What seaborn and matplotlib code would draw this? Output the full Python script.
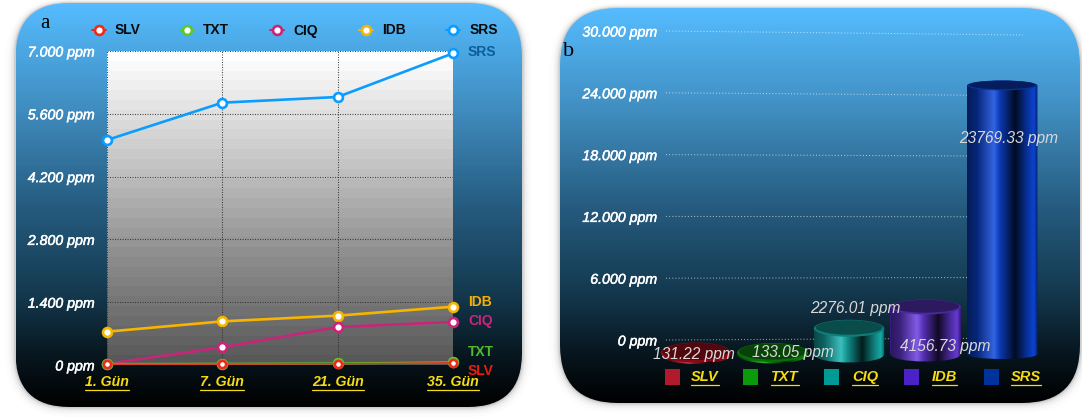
import numpy as np
import pandas as pd
import matplotlib
matplotlib.use("Agg")
import matplotlib.pyplot as plt
import matplotlib.patheffects as pe
import seaborn as sns
from matplotlib.colors import LinearSegmentedColormap, to_rgb
from matplotlib.patches import FancyBboxPatch, Ellipse, PathPatch
from matplotlib.path import Path
from matplotlib.lines import Line2D

# ---- data ----
days = ["1. Gün", "7. Gün", "21. Gün", "35. Gün"]
srs_line = [5016, 5848, 5975, 6948]
idb_line = [743, 973, 1100, 1300]
ciq_line = [25, 395, 847, 958]
txt_line = [25, 28, 35, 60]
slv_line = [18, 20, 28, 50]
line_ticks = [0, 1400, 2800, 4200, 5600, 7000]
line_tick_labels = ["0 ppm", "1.400 ppm", "2.800 ppm", "4.200 ppm", "5.600 ppm", "7.000 ppm"]

metals = ["SLV", "TXT", "CIQ", "IDB", "SRS"]
totals = [131.22, 133.05, 2276.01, 4156.73, 23769.33]
bar_ticks = [0, 6000, 12000, 18000, 24000, 30000]
bar_tick_labels = ["0 ppm", "6.000 ppm", "12.000 ppm", "18.000 ppm", "24.000 ppm", "30.000 ppm"]

# ---- styling ----
W, H = 1082, 418
line_colors = {"SLV": "#ee2a1c", "TXT": "#5cc82c", "CIQ": "#c8257a", "IDB": "#f7b500", "SRS": "#0a9cff"}
label_colors = {"SLV": "#ee1c0c", "TXT": "#4cbc2c", "CIQ": "#c8257a", "IDB": "#f5b000", "SRS": "#0d5c9b"}
swatch_colors = ["#b01a2a", "#0a9a0a", "#009a96", "#4a22c8", "#00329c"]
body_colors = ["#c01020", "#10a010", "#16b4b0", "#6a3ce0", "#0c46dc"]
ellipse_half = [10, 9.5, 8.5, 7.5, 5]
YELLOW = "#f7dc12"
SANS = "Liberation Sans"

sns.set_theme(style="white")
plt.rcParams["font.family"] = [SANS, "DejaVu Sans"]

fig = plt.figure(figsize=(W / 100, H / 100), dpi=100, facecolor="white")


def pixel_axes(x0, y0, x1, y1, zorder):
    """Axes placed by pixel box, measured from the top-left of the figure."""
    ax = fig.add_axes([x0 / W, 1 - y1 / H, (x1 - x0) / W, (y1 - y0) / H], zorder=zorder)
    ax.patch.set_alpha(0)
    for s in ax.spines.values():
        s.set_visible(False)
    return ax


bg = fig.add_axes([0, 0, 1, 1], zorder=0)
bg.set_xlim(0, W)
bg.set_ylim(H, 0)
bg.axis("off")

panel_cmap = LinearSegmentedColormap.from_list(
    "panel", [(0, "#55bcff"), (0.25, "#418fc2"), (0.5, "#265c80"), (0.72, "#14394f"), (0.88, "#07151d"), (1, "#000000")]
)
plot_cmap = LinearSegmentedColormap.from_list("plot", ["#ffffff", "#c8c8c8", "#8c8c8c", "#585858"], N=32)


def panel(x0, y0, x1, y1, r):
    # soft drop shadow, then the rounded gradient card
    for grow, a in [(10, 0.012), (7, 0.02), (5, 0.03), (3, 0.05), (1.5, 0.09)]:
        bg.add_patch(FancyBboxPatch((x0 - grow, y0 - grow * 0.5), x1 - x0 + 2 * grow, y1 - y0 + grow * 1.5,
                                    boxstyle=f"round,pad=0,rounding_size={r + grow}",
                                    fc="black", ec="none", alpha=a, zorder=1))
    clip = FancyBboxPatch((x0, y0), x1 - x0, y1 - y0, boxstyle=f"round,pad=0,rounding_size={r}",
                          fc="none", ec="none", zorder=2)
    bg.add_patch(clip)
    im = bg.imshow(np.linspace(0, 1, 256)[:, None], cmap=panel_cmap, aspect="auto",
                   extent=(x0, x1, y1, y0), zorder=2)
    im.set_clip_path(clip)


panel(15.5, 3, 522, 407, 54)
panel(560, 8, 1080, 403, 58)

# ---- panel a: lines ----
bg.imshow(np.linspace(0, 1, 32)[:, None], cmap=plot_cmap, aspect="auto", extent=(107, 453, 365, 51), zorder=3)
bg.set_xlim(0, W)
bg.set_ylim(H, 0)

tick_style = dict(fontsize=10.2, style="italic", color="white",
                  path_effects=[pe.withStroke(linewidth=0.35, foreground="white")])

ax_line = pixel_axes(107, 51, 453, 365, 2)
series_order = ["SRS", "IDB", "CIQ", "TXT", "SLV"]
line_values = {"SRS": srs_line, "IDB": idb_line, "CIQ": ciq_line, "TXT": txt_line, "SLV": slv_line}
long_df = pd.DataFrame(
    [{"day": d, "metal": m, "ppm": v} for m in series_order for d, v in zip(days, line_values[m])]
)
sns.lineplot(data=long_df, x="day", y="ppm", hue="metal", hue_order=series_order, palette=line_colors,
             marker="o", errorbar=None, legend=False, sort=False, ax=ax_line, linewidth=1.9, clip_on=False)
widths = {"SRS": 1.9, "IDB": 1.9, "CIQ": 1.9, "TXT": 1.5, "SLV": 1.0}
for ln, m in zip(ax_line.lines, series_order):
    ln.set_markerfacecolor("white")
    ln.set_markeredgecolor(line_colors[m])
    ln.set_markeredgewidth(1.9)
    ln.set_markersize(6.4 if m != "SLV" else 5.2)
    ln.set_linewidth(widths[m])
    ln.set_clip_on(False)
    ln.set_zorder(4)
ax_line.set_xlim(0, 3)
ax_line.set_ylim(0, 7000)
ax_line.set_xlabel("")
ax_line.set_ylabel("")
ax_line.set_yticks(line_ticks)
ax_line.set_yticklabels(line_tick_labels, **tick_style)
ax_line.set_xticks(range(4))
ax_line.set_xticklabels([])
ax_line.tick_params(axis="y", length=0, pad=9)
ax_line.tick_params(axis="x", length=0)
ax_line.grid(True, color="#2a2a2a", linestyle=(0, (1, 1.4)), linewidth=0.75, alpha=0.85)
ax_line.set_axisbelow(True)

# ---- panel b: receding gridlines with their labels ----
ax_grid = pixel_axes(666, 31, 1023, 340, 2)
ax_grid.set_xlim(0, 1)
ax_grid.set_ylim(0, 30000)
for v in bar_ticks:
    # the floor recedes, so each rule drifts toward the centre on its way right
    ax_grid.plot([0, 1], [v, v + 194 - 582 * v / 30000], color="white", alpha=0.6,
                 linestyle=(0, (1, 2)), linewidth=0.75, clip_on=False)
ax_grid.set_xticks([])
ax_grid.set_yticks(bar_ticks)
ax_grid.set_yticklabels(bar_tick_labels, **tick_style)
ax_grid.tick_params(axis="y", length=0, pad=6.5)

# ---- panel b: cylinders ----
ppm_per_px = 30000 / 339
floor_px = 30
ax_bar = pixel_axes(657.5, 15, 1040.5, 354 + floor_px, 3)
y_limits = (-floor_px * ppm_per_px, 30000)
bar_df = pd.DataFrame({"metal": metals, "ppm": totals})
sns.barplot(data=bar_df, x="metal", y="ppm", hue="metal", palette=swatch_colors, legend=False,
            width=0.92, saturation=1, edgecolor="none", linewidth=0, ax=ax_bar)
ax_bar.set_xlabel("")
ax_bar.set_ylabel("")
ax_bar.set_xticks([])
ax_bar.set_yticks([])

stops = [(0, 0.4), (0.14, 0.55), (0.38, 1.16), (0.47, 0.8), (0.68, 0.16), (0.86, 0.72), (0.95, 0.95), (1, 0.45)]


def shade(color, f):
    c = np.array(to_rgb(color))
    return tuple(c * f) if f <= 1 else tuple(c + (1 - c) * (f - 1))


for bar, base, half in zip(ax_bar.patches, body_colors, ellipse_half):
    x0, w, top = bar.get_x(), bar.get_width(), bar.get_height()
    eh = half * ppm_per_px
    cmap = LinearSegmentedColormap.from_list("cyl", [(p, shade(base, f)) for p, f in stops])
    k = eh * 4 / 3
    body = Path(
        [(x0, top), (x0, 0), (x0, -k), (x0 + w, -k), (x0 + w, 0), (x0 + w, top), (x0, top)],
        [Path.MOVETO, Path.LINETO, Path.CURVE4, Path.CURVE4, Path.CURVE4, Path.LINETO, Path.CLOSEPOLY],
    )
    clip = PathPatch(body, transform=ax_bar.transData, fc="none", ec="none")
    ax_bar.add_patch(clip)
    im = ax_bar.imshow(np.linspace(0, 1, 200)[None, :], cmap=cmap, aspect="auto",
                       extent=(x0, x0 + w, -eh, top), zorder=3)
    im.set_clip_path(clip)
    # cap of the cylinder, a dark rim around a slightly lighter centre
    cx = x0 + w / 2
    ax_bar.add_patch(Ellipse((cx, top), w, 2 * eh, fc=shade(base, 0.7), ec="none", zorder=4, clip_on=False))
    ax_bar.add_patch(Ellipse((cx, top + 0.1 * eh), w * 0.95, 1.7 * eh, fc=shade(base, 0.42), ec="none",
                             zorder=5, clip_on=False))
ax_bar.set_ylim(*y_limits)
ax_bar.set_xlim(-0.5, 4.5)

# ---- text and keys on top ----
top_ax = fig.add_axes([0, 0, 1, 1], zorder=6)
top_ax.set_xlim(0, W)
top_ax.set_ylim(H, 0)
top_ax.axis("off")
renderer = fig.canvas.get_renderer()


def underlined(x, y, s, ha, size):
    t = top_ax.text(x, y, s, ha=ha, va="center", color=YELLOW, fontsize=size, style="italic", weight="bold")
    box = t.get_window_extent(renderer)
    uy = H - box.y0 + 0.5
    top_ax.add_line(Line2D([box.x0, box.x1], [uy, uy], color=YELLOW, lw=0.9))


# panel a: key, day labels, end-of-line labels
key_marker_x = [453, 366, 277, 187, 99]
key_text_x = [470, 382, 293, 203, 115]
for m, mx, tx in zip(series_order, key_marker_x, key_text_x):
    top_ax.add_line(Line2D([mx - 7, mx + 7], [30, 30], color=line_colors[m], lw=1.4))
    top_ax.add_line(Line2D([mx], [30], marker="o", ms=6.4, mfc="white", mec=line_colors[m], mew=1.9, ls="none"))
    top_ax.text(tx, 30.5, m, ha="left", va="center", fontsize=10, weight="bold", color="#0a0a0a")

for x, d in zip([107, 222.3, 337.7, 453], days):
    underlined(x, 382, d, "center", 10.2)

for m, y in zip(["SRS", "IDB", "CIQ", "TXT", "SLV"], [52, 302, 321, 352, 371]):
    top_ax.text(468, y, m, ha="left", va="center", fontsize=10, weight="bold", color=label_colors[m])

top_ax.text(45, 24, "a", family="Liberation Serif", fontsize=15, color="black", ha="center", va="center")
top_ax.text(569, 52, "b", family="Liberation Serif", fontsize=16, color="black", ha="center", va="center")

# panel b: key and value labels
swatch_x = [665, 743, 824, 904, 984]
name_x = [691, 771, 852, 932, 1011]
for m, c, sx, nx in zip(metals, swatch_colors, swatch_x, name_x):
    top_ax.fill([sx, sx + 15, sx + 15, sx], [369, 369, 384.5, 384.5], color=c, lw=0)
    underlined(nx, 377, m, "left", 10.5)

label_center = [(693.5, 354), (792.5, 352), (855.5, 309), (945.5, 346), (1008.5, 139)]
for v, (x, y) in zip(totals, label_center):
    top_ax.text(x, y, f"{v:.2f} ppm", ha="center", va="center", fontsize=11.2, style="italic", color="#d8d8d8")

fig.savefig("out.png", dpi=100, facecolor="white")
